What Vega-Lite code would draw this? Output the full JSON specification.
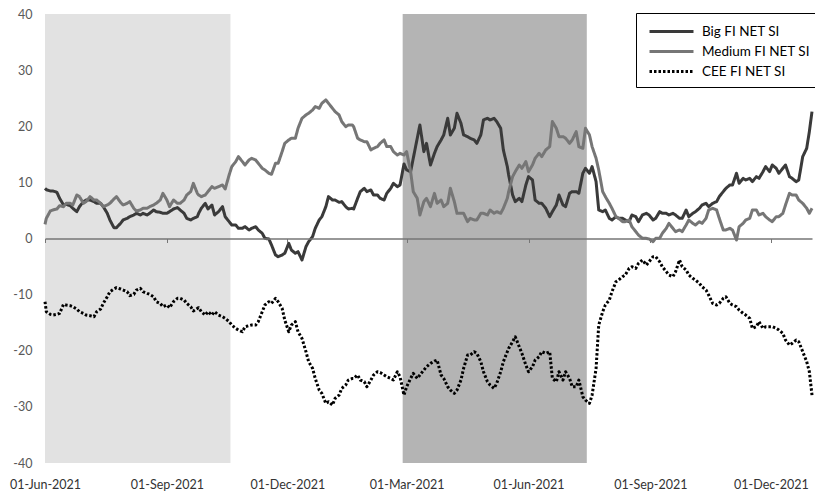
{
  "$schema": "https://vega.github.io/schema/vega-lite/v6.json",
  "width": 767,
  "height": 449,
  "autosize": {"type": "none"},
  "padding": {"left": 45, "top": 14, "right": 3, "bottom": 35},
  "background": "#ffffff",
  "config": {"view": {"stroke": null}, "font": "Lato"},
  "encoding": {
    "x": {
      "field": "d",
      "type": "temporal",
      "scale": {"domain": [{"year": 2021, "month": "jun", "date": 1}, {"year": 2023, "month": "jan", "date": 1}]},
      "axis": {
        "title": null,
        "values": [
          {"year": 2021, "month": "jun", "date": 1},
          {"year": 2021, "month": "sep", "date": 1},
          {"year": 2021, "month": "dec", "date": 1},
          {"year": 2022, "month": "mar", "date": 1},
          {"year": 2022, "month": "jun", "date": 1},
          {"year": 2022, "month": "sep", "date": 1},
          {"year": 2022, "month": "dec", "date": 1}
        ],
        "labelExpr": "timeFormat(datum.value, '%d-%b-') + '2021'",
        "offset": -224.5,
        "domainColor": "#767676",
        "domainWidth": 1.5,
        "tickColor": "#767676",
        "tickSize": 4,
        "tickWidth": 1,
        "labelPadding": 236,
        "labelColor": "#333333",
        "labelFontSize": 12.5,
        "labelFont": "Lato",
        "labelOverlap": false,
        "labelFlush": false,
        "grid": false,
        "zindex": 1
      }
    }
  },
  "layer": [
    {
      "data": {"values": [{"d": "2021-06-01", "e": "2021-10-19"}]},
      "mark": {"type": "rect", "color": "#e2e2e2"},
      "encoding": {"x2": {"field": "e"}}
    },
    {
      "data": {"values": [{"d": "2022-02-26", "e": "2022-07-15"}]},
      "mark": {"type": "rect", "color": "#b4b4b4"},
      "encoding": {"x2": {"field": "e"}}
    },
    {
      "data": {"values": [
        {"d":"2021-06-01","b":8.94,"m":2.53,"c":-11.26},
        {"d":"2021-06-02","b":8.70,"m":3.59,"c":-13.04},
        {"d":"2021-06-05","b":8.47,"m":4.90,"c":-13.52},
        {"d":"2021-06-07","b":8.47,"m":5.08,"c":-13.64},
        {"d":"2021-06-10","b":8.23,"m":5.26,"c":-13.52},
        {"d":"2021-06-12","b":7.16,"m":5.85,"c":-13.34},
        {"d":"2021-06-15","b":5.97,"m":5.67,"c":-11.73},
        {"d":"2021-06-17","b":6.09,"m":6.27,"c":-11.85},
        {"d":"2021-06-20","b":5.85,"m":6.27,"c":-11.97},
        {"d":"2021-06-22","b":5.38,"m":5.97,"c":-12.15},
        {"d":"2021-06-25","b":4.78,"m":7.75,"c":-12.57},
        {"d":"2021-06-27","b":5.67,"m":7.46,"c":-13.04},
        {"d":"2021-06-30","b":6.57,"m":6.27,"c":-13.34},
        {"d":"2021-07-02","b":6.86,"m":6.57,"c":-13.64},
        {"d":"2021-07-05","b":6.86,"m":7.46,"c":-13.76},
        {"d":"2021-07-08","b":6.57,"m":6.86,"c":-13.93},
        {"d":"2021-07-10","b":6.27,"m":6.86,"c":-13.04},
        {"d":"2021-07-13","b":6.27,"m":6.27,"c":-12.57},
        {"d":"2021-07-15","b":5.67,"m":5.67,"c":-11.56},
        {"d":"2021-07-18","b":4.49,"m":5.97,"c":-10.37},
        {"d":"2021-07-20","b":3.30,"m":6.27,"c":-9.48},
        {"d":"2021-07-23","b":1.93,"m":7.04,"c":-9.00},
        {"d":"2021-07-25","b":1.93,"m":7.46,"c":-8.76},
        {"d":"2021-07-28","b":2.70,"m":6.45,"c":-9.00},
        {"d":"2021-07-30","b":3.30,"m":5.97,"c":-9.18},
        {"d":"2021-08-02","b":3.59,"m":6.27,"c":-9.48},
        {"d":"2021-08-04","b":3.89,"m":6.57,"c":-10.19},
        {"d":"2021-08-07","b":4.19,"m":5.38,"c":-9.95},
        {"d":"2021-08-09","b":4.49,"m":4.90,"c":-9.18},
        {"d":"2021-08-12","b":4.19,"m":5.08,"c":-8.88},
        {"d":"2021-08-14","b":4.49,"m":5.38,"c":-9.48},
        {"d":"2021-08-17","b":4.19,"m":5.38,"c":-9.77},
        {"d":"2021-08-19","b":4.49,"m":5.67,"c":-9.95},
        {"d":"2021-08-22","b":5.08,"m":5.97,"c":-10.37},
        {"d":"2021-08-24","b":4.78,"m":6.27,"c":-11.26},
        {"d":"2021-08-27","b":4.66,"m":6.86,"c":-11.56},
        {"d":"2021-08-29","b":4.49,"m":8.05,"c":-12.15},
        {"d":"2021-09-01","b":4.49,"m":6.86,"c":-11.85},
        {"d":"2021-09-03","b":4.78,"m":5.67,"c":-12.33},
        {"d":"2021-09-06","b":5.26,"m":6.86,"c":-11.26},
        {"d":"2021-09-09","b":5.50,"m":6.27,"c":-10.66},
        {"d":"2021-09-11","b":5.08,"m":6.27,"c":-10.66},
        {"d":"2021-09-14","b":4.49,"m":6.86,"c":-10.96},
        {"d":"2021-09-16","b":3.59,"m":7.75,"c":-11.56},
        {"d":"2021-09-19","b":3.30,"m":8.35,"c":-12.15},
        {"d":"2021-09-21","b":3.59,"m":9.83,"c":-12.92},
        {"d":"2021-09-24","b":3.89,"m":8.05,"c":-12.45},
        {"d":"2021-09-25","b":4.49,"m":7.75,"c":-12.33},
        {"d":"2021-09-27","b":5.38,"m":7.46,"c":-13.04},
        {"d":"2021-09-30","b":6.27,"m":7.75,"c":-13.64},
        {"d":"2021-10-02","b":5.26,"m":8.35,"c":-13.04},
        {"d":"2021-10-05","b":5.97,"m":9.24,"c":-13.64},
        {"d":"2021-10-07","b":4.19,"m":8.94,"c":-13.04},
        {"d":"2021-10-10","b":4.78,"m":9.24,"c":-13.64},
        {"d":"2021-10-13","b":5.67,"m":9.54,"c":-13.93},
        {"d":"2021-10-15","b":3.89,"m":8.82,"c":-14.23},
        {"d":"2021-10-18","b":3.00,"m":11.32,"c":-14.82},
        {"d":"2021-10-20","b":2.41,"m":12.81,"c":-15.42},
        {"d":"2021-10-23","b":2.41,"m":13.70,"c":-16.01},
        {"d":"2021-10-25","b":1.81,"m":14.59,"c":-16.31},
        {"d":"2021-10-28","b":1.81,"m":13.70,"c":-16.61},
        {"d":"2021-10-30","b":2.11,"m":13.10,"c":-15.72},
        {"d":"2021-11-02","b":1.52,"m":13.99,"c":-15.54},
        {"d":"2021-11-04","b":1.81,"m":14.29,"c":-15.42},
        {"d":"2021-11-07","b":2.11,"m":13.99,"c":-15.42},
        {"d":"2021-11-09","b":1.52,"m":13.40,"c":-14.82},
        {"d":"2021-11-12","b":0.92,"m":12.51,"c":-13.04},
        {"d":"2021-11-14","b":0.03,"m":12.21,"c":-11.85},
        {"d":"2021-11-17","b":-0.09,"m":11.62,"c":-11.26},
        {"d":"2021-11-19","b":-1.16,"m":11.44,"c":-11.56},
        {"d":"2021-11-22","b":-2.94,"m":13.40,"c":-10.66},
        {"d":"2021-11-24","b":-3.24,"m":13.40,"c":-11.26},
        {"d":"2021-11-27","b":-2.94,"m":15.48,"c":-12.45},
        {"d":"2021-11-29","b":-2.64,"m":16.96,"c":-14.53},
        {"d":"2021-12-02","b":-0.86,"m":17.56,"c":-16.61},
        {"d":"2021-12-04","b":-2.05,"m":17.86,"c":-15.42},
        {"d":"2021-12-07","b":-2.64,"m":17.86,"c":-14.82},
        {"d":"2021-12-09","b":-2.35,"m":19.64,"c":-16.61},
        {"d":"2021-12-12","b":-3.83,"m":21.42,"c":-17.80},
        {"d":"2021-12-15","b":-1.46,"m":22.01,"c":-20.17},
        {"d":"2021-12-17","b":-0.56,"m":22.31,"c":-21.95},
        {"d":"2021-12-20","b":0.33,"m":22.90,"c":-23.14},
        {"d":"2021-12-22","b":1.81,"m":23.50,"c":-24.93},
        {"d":"2021-12-25","b":3.30,"m":23.20,"c":-27.01},
        {"d":"2021-12-27","b":3.89,"m":24.09,"c":-27.60},
        {"d":"2021-12-30","b":5.67,"m":24.69,"c":-29.38},
        {"d":"2022-01-01","b":7.46,"m":24.09,"c":-29.08},
        {"d":"2022-01-04","b":6.86,"m":23.20,"c":-29.68},
        {"d":"2022-01-06","b":6.86,"m":22.61,"c":-28.49},
        {"d":"2022-01-09","b":6.45,"m":22.01,"c":-27.90},
        {"d":"2022-01-11","b":6.57,"m":20.83,"c":-26.71},
        {"d":"2022-01-14","b":5.67,"m":19.93,"c":-26.11},
        {"d":"2022-01-16","b":5.26,"m":20.23,"c":-25.22},
        {"d":"2022-01-19","b":5.38,"m":20.23,"c":-24.93},
        {"d":"2022-01-20","b":5.26,"m":19.93,"c":-24.93},
        {"d":"2022-01-23","b":7.16,"m":17.86,"c":-24.33},
        {"d":"2022-01-25","b":8.35,"m":17.56,"c":-25.22},
        {"d":"2022-01-28","b":8.94,"m":17.26,"c":-25.52},
        {"d":"2022-01-30","b":8.35,"m":17.26,"c":-26.41},
        {"d":"2022-02-02","b":8.65,"m":15.78,"c":-25.22},
        {"d":"2022-02-04","b":7.75,"m":16.07,"c":-24.33},
        {"d":"2022-02-07","b":7.75,"m":16.37,"c":-23.74},
        {"d":"2022-02-09","b":7.16,"m":16.96,"c":-23.86},
        {"d":"2022-02-12","b":6.86,"m":17.56,"c":-24.33},
        {"d":"2022-02-14","b":8.05,"m":16.37,"c":-24.63},
        {"d":"2022-02-17","b":8.94,"m":16.37,"c":-24.93},
        {"d":"2022-02-19","b":9.83,"m":15.48,"c":-25.22},
        {"d":"2022-02-22","b":9.24,"m":14.88,"c":-23.74},
        {"d":"2022-02-24","b":9.54,"m":15.18,"c":-24.63},
        {"d":"2022-02-27","b":13.28,"m":14.88,"c":-27.90},
        {"d":"2022-03-01","b":12.21,"m":15.48,"c":-26.41},
        {"d":"2022-03-04","b":11.91,"m":11.91,"c":-24.93},
        {"d":"2022-03-06","b":14.29,"m":8.35,"c":-24.04},
        {"d":"2022-03-09","b":17.86,"m":7.16,"c":-24.93},
        {"d":"2022-03-11","b":20.23,"m":4.19,"c":-24.33},
        {"d":"2022-03-14","b":15.48,"m":6.57,"c":-23.44},
        {"d":"2022-03-16","b":16.96,"m":7.16,"c":-22.85},
        {"d":"2022-03-19","b":13.10,"m":5.67,"c":-22.25},
        {"d":"2022-03-22","b":15.18,"m":8.05,"c":-21.84},
        {"d":"2022-03-24","b":16.37,"m":6.27,"c":-21.66},
        {"d":"2022-03-27","b":17.56,"m":6.86,"c":-24.33},
        {"d":"2022-03-29","b":18.45,"m":5.67,"c":-24.93},
        {"d":"2022-04-01","b":21.42,"m":6.27,"c":-26.41},
        {"d":"2022-04-03","b":18.45,"m":8.94,"c":-27.01},
        {"d":"2022-04-06","b":19.64,"m":6.57,"c":-27.60},
        {"d":"2022-04-08","b":22.31,"m":4.49,"c":-27.01},
        {"d":"2022-04-11","b":20.53,"m":4.49,"c":-25.22},
        {"d":"2022-04-13","b":18.45,"m":4.49,"c":-23.14},
        {"d":"2022-04-16","b":18.15,"m":3.00,"c":-20.77},
        {"d":"2022-04-18","b":17.86,"m":3.59,"c":-20.77},
        {"d":"2022-04-21","b":17.56,"m":3.30,"c":-20.17},
        {"d":"2022-04-23","b":16.96,"m":3.30,"c":-20.47},
        {"d":"2022-04-26","b":18.45,"m":4.49,"c":-21.95},
        {"d":"2022-04-28","b":21.12,"m":4.49,"c":-23.74},
        {"d":"2022-05-01","b":21.42,"m":4.19,"c":-25.52},
        {"d":"2022-05-03","b":21.12,"m":5.08,"c":-26.11},
        {"d":"2022-05-06","b":21.42,"m":4.49,"c":-26.71},
        {"d":"2022-05-08","b":20.83,"m":4.78,"c":-25.82},
        {"d":"2022-05-11","b":19.64,"m":4.49,"c":-23.74},
        {"d":"2022-05-13","b":15.78,"m":5.38,"c":-21.95},
        {"d":"2022-05-16","b":12.81,"m":7.16,"c":-20.17},
        {"d":"2022-05-17","b":11.32,"m":8.35,"c":-19.58},
        {"d":"2022-05-20","b":7.75,"m":11.02,"c":-18.39},
        {"d":"2022-05-22","b":6.57,"m":11.91,"c":-17.50},
        {"d":"2022-05-25","b":7.16,"m":13.10,"c":-19.28},
        {"d":"2022-05-27","b":6.57,"m":12.51,"c":-20.47},
        {"d":"2022-05-30","b":9.54,"m":13.70,"c":-22.55},
        {"d":"2022-06-01","b":11.02,"m":11.91,"c":-23.74},
        {"d":"2022-06-04","b":10.43,"m":13.10,"c":-22.85},
        {"d":"2022-06-06","b":6.86,"m":14.29,"c":-21.66},
        {"d":"2022-06-09","b":6.27,"m":15.18,"c":-21.06},
        {"d":"2022-06-11","b":6.27,"m":14.59,"c":-20.17},
        {"d":"2022-06-14","b":5.38,"m":15.78,"c":-20.47},
        {"d":"2022-06-17","b":3.89,"m":16.37,"c":-20.17},
        {"d":"2022-06-19","b":4.78,"m":20.83,"c":-24.93},
        {"d":"2022-06-22","b":5.97,"m":19.64,"c":-25.52},
        {"d":"2022-06-24","b":7.75,"m":18.15,"c":-23.74},
        {"d":"2022-06-27","b":5.97,"m":18.15,"c":-25.22},
        {"d":"2022-06-29","b":5.67,"m":17.86,"c":-23.74},
        {"d":"2022-07-02","b":8.05,"m":16.96,"c":-24.93},
        {"d":"2022-07-04","b":8.35,"m":17.56,"c":-26.41},
        {"d":"2022-07-07","b":8.35,"m":19.04,"c":-26.41},
        {"d":"2022-07-09","b":8.05,"m":16.37,"c":-25.22},
        {"d":"2022-07-12","b":11.62,"m":16.07,"c":-28.19},
        {"d":"2022-07-14","b":12.51,"m":19.64,"c":-28.79},
        {"d":"2022-07-17","b":11.62,"m":18.45,"c":-29.38},
        {"d":"2022-07-19","b":12.81,"m":16.37,"c":-27.90},
        {"d":"2022-07-22","b":10.13,"m":14.29,"c":-23.14},
        {"d":"2022-07-24","b":5.08,"m":12.21,"c":-15.42},
        {"d":"2022-07-27","b":4.78,"m":8.35,"c":-13.04},
        {"d":"2022-07-29","b":5.08,"m":7.46,"c":-11.85},
        {"d":"2022-08-01","b":3.59,"m":6.27,"c":-10.96},
        {"d":"2022-08-03","b":3.30,"m":5.38,"c":-9.48},
        {"d":"2022-08-06","b":3.89,"m":3.89,"c":-7.69},
        {"d":"2022-08-08","b":3.59,"m":3.59,"c":-7.40},
        {"d":"2022-08-11","b":3.59,"m":3.00,"c":-6.80},
        {"d":"2022-08-13","b":3.30,"m":3.00,"c":-6.50},
        {"d":"2022-08-16","b":3.00,"m":3.30,"c":-5.32},
        {"d":"2022-08-18","b":4.19,"m":2.11,"c":-5.02},
        {"d":"2022-08-21","b":3.89,"m":1.22,"c":-5.32},
        {"d":"2022-08-23","b":3.00,"m":0.62,"c":-4.43},
        {"d":"2022-08-26","b":4.19,"m":0.03,"c":-3.83},
        {"d":"2022-08-29","b":4.49,"m":0.03,"c":-4.72},
        {"d":"2022-08-31","b":4.19,"m":-0.09,"c":-4.13},
        {"d":"2022-09-03","b":3.30,"m":-0.56,"c":-3.24},
        {"d":"2022-09-05","b":3.59,"m":0.03,"c":-3.24},
        {"d":"2022-09-08","b":4.78,"m":0.03,"c":-4.13},
        {"d":"2022-09-10","b":4.49,"m":0.92,"c":-5.02},
        {"d":"2022-09-13","b":4.49,"m":1.81,"c":-5.91},
        {"d":"2022-09-15","b":4.19,"m":2.70,"c":-6.50},
        {"d":"2022-09-18","b":4.49,"m":1.81,"c":-6.80},
        {"d":"2022-09-20","b":4.19,"m":1.22,"c":-5.91},
        {"d":"2022-09-23","b":3.59,"m":1.52,"c":-3.83},
        {"d":"2022-09-25","b":3.59,"m":1.22,"c":-5.02},
        {"d":"2022-09-28","b":5.08,"m":2.41,"c":-5.61},
        {"d":"2022-09-30","b":3.89,"m":3.30,"c":-6.50},
        {"d":"2022-10-03","b":4.49,"m":2.70,"c":-7.10},
        {"d":"2022-10-05","b":4.78,"m":2.41,"c":-7.40},
        {"d":"2022-10-08","b":5.38,"m":3.00,"c":-7.99},
        {"d":"2022-10-10","b":5.97,"m":2.70,"c":-8.59},
        {"d":"2022-10-13","b":6.27,"m":3.59,"c":-9.18},
        {"d":"2022-10-15","b":5.67,"m":5.08,"c":-10.07},
        {"d":"2022-10-18","b":6.27,"m":5.38,"c":-11.56},
        {"d":"2022-10-21","b":6.57,"m":5.08,"c":-11.85},
        {"d":"2022-10-23","b":7.46,"m":3.59,"c":-11.56},
        {"d":"2022-10-26","b":8.35,"m":1.52,"c":-10.66},
        {"d":"2022-10-28","b":8.94,"m":1.52,"c":-10.37},
        {"d":"2022-10-31","b":9.54,"m":1.81,"c":-11.56},
        {"d":"2022-11-02","b":9.54,"m":1.52,"c":-11.85},
        {"d":"2022-11-05","b":11.62,"m":-0.27,"c":-12.15},
        {"d":"2022-11-07","b":9.83,"m":2.11,"c":-12.75},
        {"d":"2022-11-10","b":10.72,"m":2.70,"c":-13.34},
        {"d":"2022-11-12","b":10.43,"m":3.30,"c":-13.64},
        {"d":"2022-11-15","b":10.72,"m":3.59,"c":-14.23},
        {"d":"2022-11-17","b":10.13,"m":5.08,"c":-16.01},
        {"d":"2022-11-20","b":11.02,"m":5.08,"c":-15.72},
        {"d":"2022-11-22","b":10.72,"m":4.19,"c":-14.82},
        {"d":"2022-11-25","b":11.91,"m":4.49,"c":-16.01},
        {"d":"2022-11-27","b":12.81,"m":3.89,"c":-15.72},
        {"d":"2022-11-30","b":11.91,"m":3.30,"c":-15.72},
        {"d":"2022-12-02","b":13.10,"m":3.00,"c":-15.72},
        {"d":"2022-12-05","b":12.51,"m":3.89,"c":-16.01},
        {"d":"2022-12-07","b":11.62,"m":3.89,"c":-16.31},
        {"d":"2022-12-10","b":12.51,"m":4.49,"c":-16.90},
        {"d":"2022-12-12","b":13.10,"m":5.97,"c":-18.09},
        {"d":"2022-12-15","b":11.02,"m":8.05,"c":-18.98},
        {"d":"2022-12-17","b":10.72,"m":7.75,"c":-18.69},
        {"d":"2022-12-20","b":10.13,"m":7.75,"c":-18.09},
        {"d":"2022-12-22","b":10.43,"m":6.86,"c":-18.39},
        {"d":"2022-12-25","b":14.59,"m":6.27,"c":-20.17},
        {"d":"2022-12-28","b":16.07,"m":5.38,"c":-21.95},
        {"d":"2022-12-30","b":19.04,"m":4.49,"c":-23.74},
        {"d":"2023-01-01","b":22.61,"m":5.38,"c":-27.90}
      ]},
      "transform": [{"fold": ["b", "m", "c"], "as": ["s", "v"]}],
      "mark": {"type": "line", "strokeWidth": 3, "strokeJoin": "round"},
      "encoding": {
        "y": {
          "field": "v",
          "type": "quantitative",
          "scale": {"domain": [-40, 40], "nice": false, "zero": false},
          "axis": {
            "title": null,
            "values": [-40, -30, -20, -10, 0, 10, 20, 30, 40],
            "domain": false,
            "ticks": false,
            "grid": false,
            "labelExpr": "'' + datum.value",
            "labelColor": "#595959",
            "labelFontSize": 12.5,
            "labelFont": "Lato",
            "labelPadding": 13
          }
        },
        "color": {
          "field": "s",
          "type": "nominal",
          "scale": {"domain": ["b", "m", "c"], "range": ["#3a3a3a", "#767676", "#000000"]},
          "legend": {
            "orient": "none",
            "legendX": 591,
            "legendY": -1,
            "title": null,
            "direction": "vertical",
            "strokeColor": "#000000",
            "fillColor": "#ffffff",
            "padding": 9,
            "symbolType": "M-2.75,0H2.75",
            "symbolSize": 256,
            "symbolStrokeWidth": 3,
            "symbolOffset": 17,
            "labelFontSize": 13.5,
            "labelFont": "Lato",
            "labelColor": "#000000",
            "labelOffset": 21,
            "rowPadding": 4,
            "labelExpr": "datum.label == 'b' ? 'Big FI NET SI' : datum.label == 'm' ? 'Medium FI NET SI' : 'CEE FI NET SI'"
          }
        },
        "strokeDash": {
          "field": "s",
          "type": "nominal",
          "scale": {"domain": ["b", "m", "c"], "range": [[1, 0], [1, 0], [2.5, 2]]}
        }
      }
    }
  ]
}
